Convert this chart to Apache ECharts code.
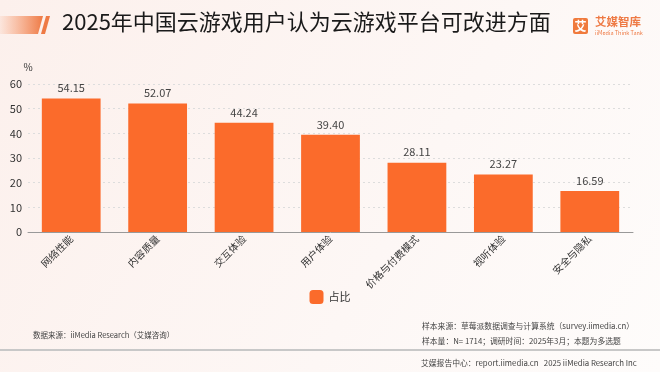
<!DOCTYPE html>
<html><head><meta charset="utf-8">
<script src="https://cdn.jsdelivr.net/npm/echarts@6/dist/echarts.min.js"></script>
<style>html,body{margin:0;padding:0;background:#fff}#c{width:660px;height:372px}</style>
</head><body><div id="c"></div>
<script>
const categories = ['网络性能','内容质量','交互体验','用户体验','价格与付费模式','视听体验','安全与隐私'];
const values = [54.15, 52.07, 44.24, 39.40, 28.11, 23.27, 16.59];
const yTicks = [0,10,20,30,40,50,60];
const seriesName = '占比';

const F = '"Noto Sans CJK SC","Noto Sans",sans-serif';
const chart = echarts.init(document.getElementById('c'));
chart.setOption({
  backgroundColor: {type:'linear',x:0,y:0,x2:1,y2:1,colorStops:[{offset:0,color:'#fcf0ec'},{offset:0.6,color:'#fdf7f5'},{offset:1,color:'#fefcfb'}]},
  animation:false,
  textStyle:{fontFamily:F},
  grid:{left:28,right:27,top:84,bottom:140,containLabel:false},
  legend:{data:[seriesName],bottom:63,left:'center',itemWidth:14,itemHeight:14,icon:'roundRect',itemGap:6,
    textStyle:{fontSize:11,color:'#333',fontFamily:F}},
  xAxis:{type:'category',data:categories,
    axisLine:{lineStyle:{color:'#999',width:1}},axisTick:{show:false},
    axisLabel:{rotate:45,fontSize:10,color:'#333',margin:5,interval:0,fontFamily:F}},
  yAxis:{type:'value',min:yTicks[0],max:yTicks[yTicks.length-1],interval:10,
    name:'%',nameLocation:'end',nameGap:12,nameTextStyle:{fontSize:10,color:'#333',align:'center'},
    axisLine:{show:false},axisTick:{show:false},
    axisLabel:{fontSize:11,color:'#333',margin:6},
    splitLine:{lineStyle:{color:'#ddd',type:[2,3]}}},
  series:[{name:seriesName,type:'bar',data:values,barWidth:'68%',
    itemStyle:{color:'#fb6b2b'},
    label:{show:true,position:'top',fontSize:11,color:'#444',distance:5,formatter:p=>p.value.toFixed(2)}}],
  graphic:[
    {type:'polygon',shape:{points:[[0,16],[43,16],[38,34],[0,34]]},
      style:{fill:{type:'linear',x:0,y:0,x2:1,y2:0,colorStops:[{offset:0,color:'rgba(247,140,90,0.1)'},{offset:1,color:'#ee7a45'}]}}},
    {type:'polygon',shape:{points:[[46,16],[50,16],[45,34],[41,34]]},style:{fill:'#ee7a45'}},
    {type:'text',left:62,top:11,style:{text:'2025年中国云游戏用户认为云游戏平台可改进方面',fontSize:22,fill:'#1a1a1a',fontFamily:F}},
    {type:'rect',shape:{x:573,y:18,width:15,height:16,r:2},style:{fill:'#f07a3c'}},
    {type:'text',x:580.5,y:26,style:{text:'艾',fontSize:12,fontWeight:'bold',fill:'#fff',align:'center',verticalAlign:'middle',fontFamily:F}},
    {type:'text',x:595,y:16,style:{text:'艾媒智库',fontSize:11.5,fontWeight:'bold',fill:'#ee7a45',fontFamily:F}},
    {type:'text',x:595,y:30,style:{text:'iiMedia Think Tank',fontSize:5.5,fill:'#ee7a45',fontFamily:F}},
    {type:'text',x:33,y:331,style:{text:'数据来源：iiMedia Research（艾媒咨询）',fontSize:7.5,fill:'#444',fontFamily:F}},
    {type:'text',x:422,y:322,style:{text:'样本来源：草莓派数据调查与计算系统（survey.iimedia.cn）',fontSize:7.8,fill:'#444',fontFamily:F}},
    {type:'text',x:422,y:337,style:{text:'样本量：N= 1714；调研时间：2025年3月；本题为多选题',fontSize:7.8,fill:'#444',fontFamily:F}},
    {type:'rect',shape:{x:0,y:349,width:660,height:2},style:{fill:'#c8c8c8'}},
    {type:'text',x:421,y:359,style:{text:'艾媒报告中心：report.iimedia.cn   2025 iiMedia Research Inc',fontSize:7.8,fill:'#444',fontFamily:F}}
  ]
});
</script></body></html>
